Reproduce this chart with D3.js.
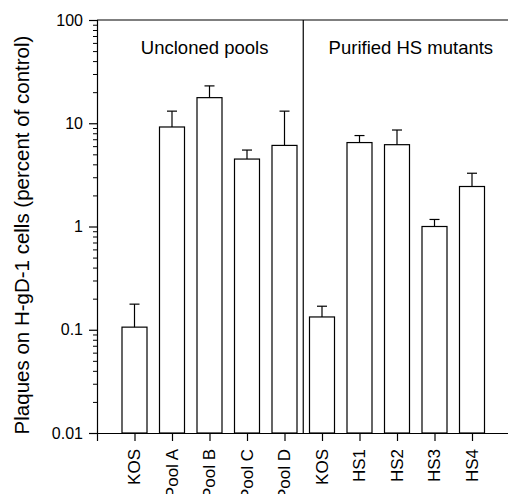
<!DOCTYPE html>
<html><head><meta charset="utf-8">
<script src="https://cdn.jsdelivr.net/npm/d3@7"></script>
<style>
html,body{margin:0;padding:0;background:#fff;}
svg{display:block;font-family:Arial,"Liberation Sans",Helvetica,sans-serif;}
</style></head>
<body>
<svg id="c" width="508" height="494"></svg>
<script>
const categories = ["KOS","Pool A","Pool B","Pool C","Pool D","KOS","HS1","HS2","HS3","HS4"];
const values     = [0.106, 9.2, 17.7, 4.5, 6.1, 0.133, 6.5, 6.2, 1.0, 2.44];
const errUpper   = [0.177, 13.1, 23.0, 5.5, 13.1, 0.169, 7.6, 8.6, 1.17, 3.28];
const groupLabels = ["Uncloned pools", "Purified HS mutants"];
const groupCenters = [2.87, 8.37];   // in slot units
const groupDivider = 5.5;
const yTicks = [0.01, 0.1, 1, 10, 100];
const yTickLabels = ["0.01", "0.1", "1", "10", "100"];
const yTitle = "Plaques on H-gD-1 cells (percent of control)";

const svg = d3.select("#c");
const x0 = 97, x1 = 509.5, yTop = 20, yBot = 433;
const x = d3.scaleLinear().domain([0, 11]).range([x0, x1]);
const y = d3.scaleLog().domain([0.01, 100]).range([yBot, yTop]);
const barW = 25, capW = 10;

// minor ticks
const minor = [];
for (let d = -2; d < 2; d++) for (let k = 2; k <= 9; k++) minor.push(k * Math.pow(10, d));

const g = svg.append("g");

// bars
g.selectAll("rect.bar").data(values).enter().append("rect")
  .attr("x", (d, i) => x(i + 1) - barW / 2)
  .attr("y", d => y(d))
  .attr("width", barW)
  .attr("height", d => yBot - y(d))
  .attr("fill", "#fff").attr("stroke", "#000").attr("stroke-width", 1.2);

// error bars
g.selectAll("line.err").data(errUpper).enter().append("line")
  .attr("x1", (d, i) => x(i + 1)).attr("x2", (d, i) => x(i + 1))
  .attr("y1", (d, i) => y(values[i])).attr("y2", d => y(d))
  .attr("stroke", "#000").attr("stroke-width", 1.2);
g.selectAll("line.cap").data(errUpper).enter().append("line")
  .attr("x1", (d, i) => x(i + 1) - capW / 2).attr("x2", (d, i) => x(i + 1) + capW / 2)
  .attr("y1", d => y(d)).attr("y2", d => y(d))
  .attr("stroke", "#000").attr("stroke-width", 1.2);

// top frame
svg.append("line").attr("x1", x0).attr("x2", x1).attr("y1", yTop).attr("y2", yTop)
  .attr("stroke", "#000").attr("stroke-width", 1.2);
// divider
svg.append("line").attr("x1", x(groupDivider)).attr("x2", x(groupDivider))
  .attr("y1", yTop).attr("y2", yBot).attr("stroke", "#000").attr("stroke-width", 1.2);

// y axis
const yAxis = d3.axisLeft(y).tickValues(yTicks).tickFormat((d, i) => yTickLabels[i]).tickSize(8).tickPadding(6);
const ya = svg.append("g").attr("transform", `translate(${x0},0)`).call(yAxis);
ya.select(".domain").attr("stroke-width", 1.2);
ya.selectAll(".tick line").attr("stroke-width", 1.2);
ya.selectAll(".tick text").attr("font-size", 16).attr("font-family", "Arial, Liberation Sans, sans-serif");
const yMinor = d3.axisLeft(y).tickValues(minor).tickFormat("").tickSize(4);
const ym = svg.append("g").attr("transform", `translate(${x0},0)`).call(yMinor);
ym.select(".domain").remove();

// x axis
const xAxis = d3.axisBottom(x).tickValues(d3.range(0, 11)).tickFormat("").tickSize(8).tickSizeOuter(0);
const xa = svg.append("g").attr("transform", `translate(0,${yBot})`).call(xAxis);
xa.select(".domain").attr("stroke-width", 1.2);
xa.selectAll(".tick line").attr("stroke-width", 1.2);

// x labels
svg.selectAll("text.xl").data(categories).enter().append("text")
  .attr("transform", (d, i) => `translate(${x(i + 1) + 5.5},449) rotate(-90)`)
  .attr("text-anchor", "end").attr("font-size", 17).text(d => d);

// group labels
svg.selectAll("text.gl").data(groupLabels).enter().append("text")
  .attr("x", (d, i) => x(groupCenters[i]))
  .attr("y", 54).attr("text-anchor", "middle").attr("font-size", 18.5).text(d => d);

// y title
svg.append("text").attr("transform", `translate(29,235) rotate(-90)`)
  .attr("text-anchor", "middle").attr("font-size", 20.5).text(yTitle);
</script>
</body></html>
